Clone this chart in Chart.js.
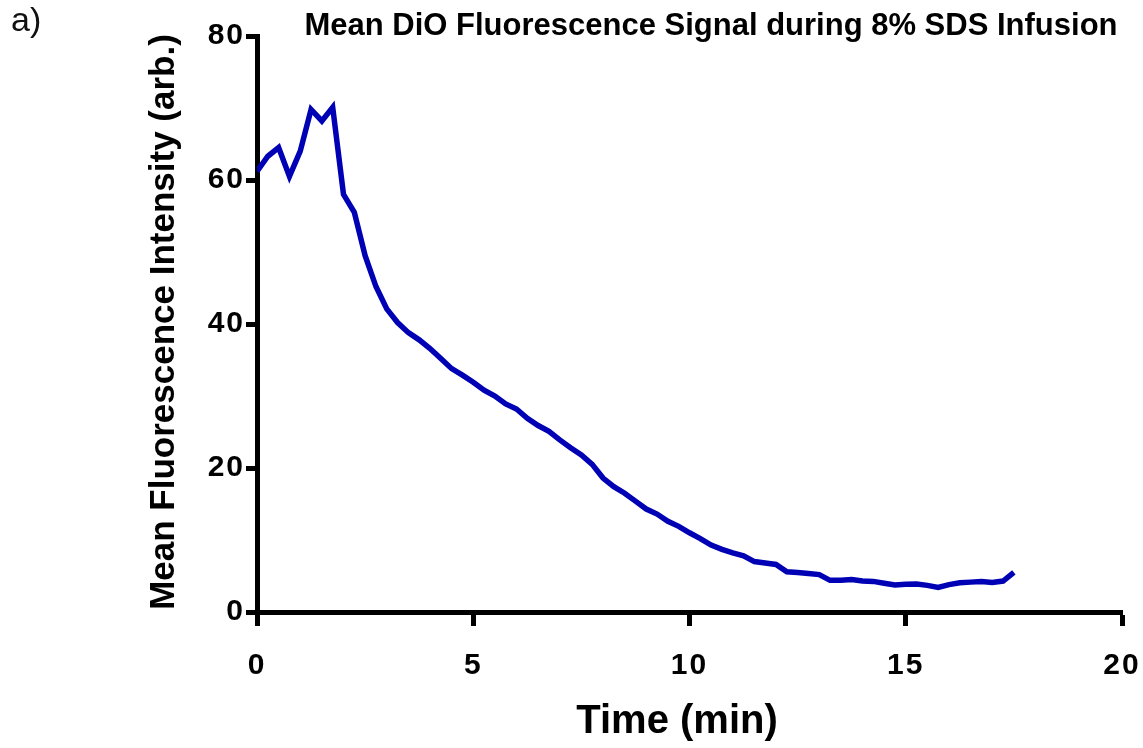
<!DOCTYPE html>
<html>
<head>
<meta charset="utf-8">
<script src="https://cdn.jsdelivr.net/npm/chart.js@4.4.1/dist/chart.umd.min.js"></script>
<style>
  html, body { margin: 0; padding: 0; background: #fff; }
  #wrap { width: 1143px; height: 748px; }
</style>
</head>
<body>
<div id="wrap"><canvas id="chart"></canvas></div>
<script>
// data (15 s sampling)
var timeMin = [0, 0.25, 0.5, 0.75, 1, 1.25, 1.5, 1.75, 2, 2.25, 2.5, 2.75, 3, 3.25, 3.5, 3.75,
  4, 4.25, 4.5, 4.75, 5, 5.25, 5.5, 5.75, 6, 6.25, 6.5, 6.75, 7, 7.25, 7.5, 7.75,
  8, 8.25, 8.5, 8.75, 9, 9.25, 9.5, 9.75, 10, 10.25, 10.5, 10.75, 11, 11.25, 11.5, 11.75,
  12, 12.25, 12.5, 12.75, 13, 13.25, 13.5, 13.75, 14, 14.25, 14.5, 14.75, 15, 15.25, 15.5, 15.75,
  16, 16.25, 16.5, 16.75, 17, 17.25, 17.5];
var intensity = [61.2, 63.3, 64.5, 60.5, 64.0, 69.8, 68.2, 70.1, 58.0, 55.5, 49.5, 45.2, 42.1, 40.2, 38.8, 37.8,
  36.6, 35.2, 33.8, 32.9, 31.9, 30.8, 30.0, 28.9, 28.2, 26.9, 25.9, 25.1, 23.9, 22.8, 21.8, 20.5,
  18.6, 17.4, 16.5, 15.4, 14.3, 13.6, 12.6, 11.9, 11.0, 10.2, 9.3, 8.7, 8.2, 7.8, 7.0, 6.8,
  6.6, 5.6, 5.5, 5.35, 5.2, 4.4, 4.4, 4.5, 4.3, 4.25, 4.0, 3.75, 3.85, 3.9, 3.7, 3.4,
  3.8, 4.05, 4.15, 4.25, 4.1, 4.3, 5.5];
var xTicks = [0, 5, 10, 15, 20];
var yTicks = [0, 20, 40, 60, 80];

var chartTitle = 'Mean DiO Fluorescence Signal during 8% SDS Infusion';
var xTitle = 'Time (min)';
var yTitle = 'Mean Fluorescence Intensity (arb.)';
var panelLabel = 'a)';

var FONT = '"Liberation Sans", Arial, sans-serif';

var points = [];
for (var i = 0; i < timeMin.length; i++) {
  points.push({ x: timeMin[i], y: intensity[i] });
}

// tick digits are spaced out a little in the original; other texts drawn afterwards
var textPlugin = {
  id: 'texts',
  beforeDraw: function (chart) {
    chart.ctx.letterSpacing = '2px';
  },
  afterDraw: function (chart) {
    var ctx = chart.ctx;
    ctx.save();
    ctx.letterSpacing = '0px';
    ctx.fillStyle = '#000';
    ctx.textAlign = 'center';
    ctx.textBaseline = 'middle';

    ctx.font = 'bold 31px ' + FONT;
    ctx.fillText(chartTitle, 711, 26);

    ctx.font = 'bold 40px ' + FONT;
    ctx.fillText(xTitle, 677, 722);

    ctx.save();
    ctx.font = 'bold 35px ' + FONT;
    ctx.translate(164, 322);
    ctx.rotate(-Math.PI / 2);
    ctx.fillText(yTitle, 0, 0);
    ctx.restore();

    ctx.textAlign = 'left';
    ctx.font = '34px ' + FONT;
    ctx.fillStyle = '#111';
    ctx.fillText(panelLabel, 11, 22);
    ctx.restore();
  }
};

var ctx = document.getElementById('chart').getContext('2d');
var chart = new Chart(ctx, {
  type: 'line',
  data: {
    datasets: [{
      data: points,
      borderColor: '#0000b4',
      borderWidth: 5.5,
      pointRadius: 0,
      tension: 0,
      fill: false
    }]
  },
  options: {
    responsive: true,
    maintainAspectRatio: false,
    animation: false,
    layout: { padding: { top: 36, right: 21, left: 0, bottom: 0 } },
    plugins: {
      legend: { display: false },
      title: { display: false },
      tooltip: { enabled: false }
    },
    scales: {
      x: {
        type: 'linear',
        min: 0,
        max: 20,
        afterBuildTicks: function (scale) {
          scale.ticks = xTicks.map(function (v) { return { value: v }; });
        },
        afterFit: function (scale) {
          scale.height = 136;
          scale.paddingLeft = 0;
          scale.paddingRight = 0;
        },
        grid: { drawOnChartArea: false, drawTicks: true, tickLength: 14, tickWidth: 5, tickColor: '#000' },
        border: { display: true, color: '#000', width: 5 },
        ticks: {
          color: '#000',
          padding: 22,
          maxRotation: 0,
          font: { family: FONT, weight: 'bold', size: 30 }
        }
      },
      y: {
        min: 0,
        max: 80,
        afterBuildTicks: function (scale) {
          scale.ticks = yTicks.map(function (v) { return { value: v }; });
        },
        afterFit: function (scale) {
          scale.width = 257;
          scale.paddingTop = 0;
          scale.paddingBottom = 0;
        },
        grid: { drawOnChartArea: false, drawTicks: true, tickLength: 11, tickWidth: 5, tickColor: '#000' },
        border: { display: true, color: '#000', width: 5 },
        ticks: {
          color: '#000',
          padding: 1,
          font: { family: FONT, weight: 'bold', size: 30 }
        }
      }
    }
  },
  plugins: [textPlugin]
});
</script>
</body>
</html>
